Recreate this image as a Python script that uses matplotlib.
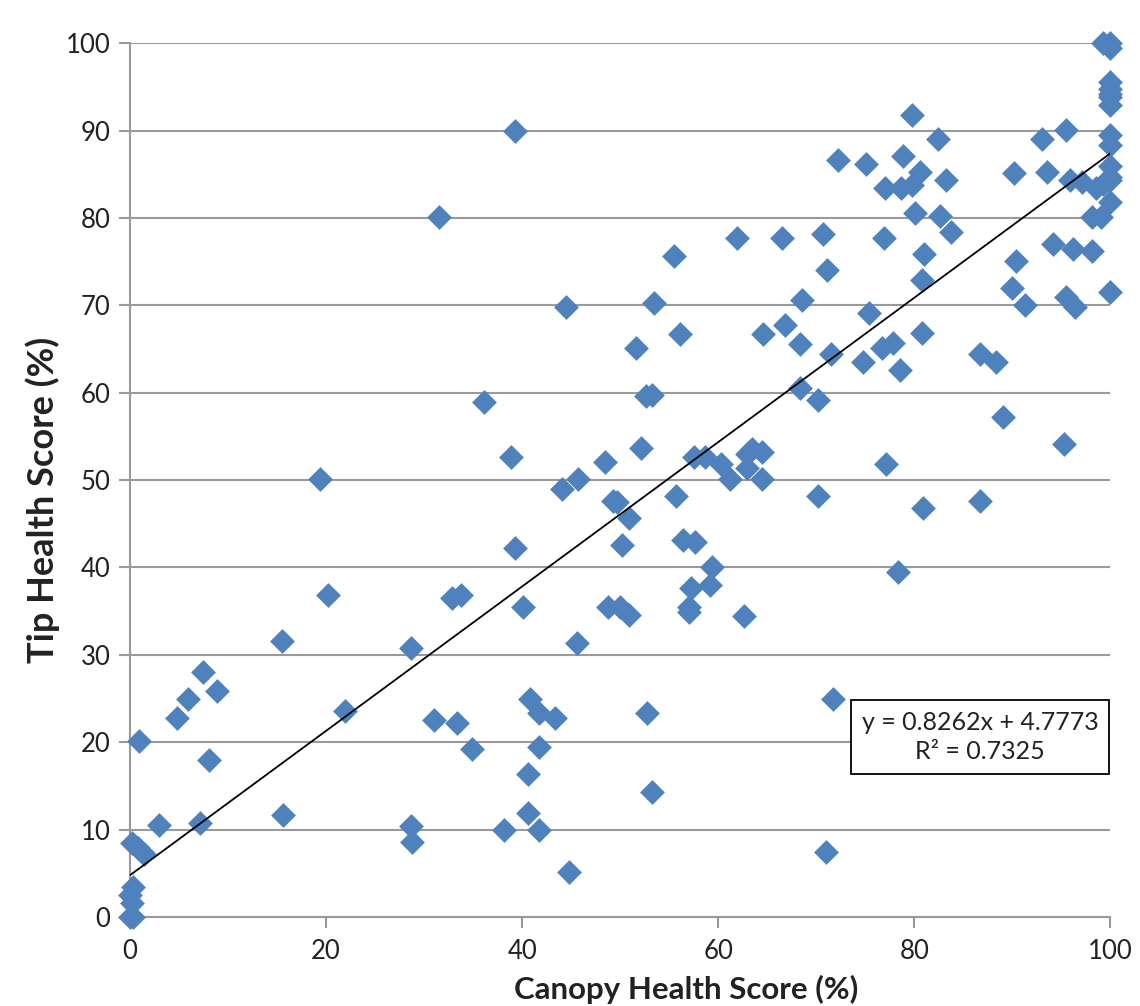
import matplotlib
matplotlib.use('Agg')
import matplotlib.pyplot as plt
import numpy as np

plt.rcParams['font.family'] = ['Lato', 'DejaVu Sans']

# canopy health score (%) vs tip health score (%)
canopy = [0, 0.3, 0.2, 0, 0.3, 0.2, 0.85, 1.4, 0.9, 3.0,
          7.1, 4.8, 5.95, 7.4, 8.9, 8.1, 15.5, 15.6, 19.4, 20.2,
          21.9, 28.7, 28.7, 28.8, 31.0, 31.5, 33.4, 32.8, 33.8, 34.9,
          36.1, 38.2, 38.9, 39.3, 39.3, 40.1, 40.8, 40.6, 40.6, 41.7,
          41.7, 41.7, 43.4, 44.8, 44.5, 44.1, 45.6, 45.7, 48.5, 48.8,
          49.3, 49.7, 50.2, 50.0, 50.9, 50.9, 51.6, 52.1, 52.6, 53.2,
          52.7, 53.2, 53.5, 55.5, 55.7, 56.1, 56.4, 57.0, 57.0, 57.2,
          57.5, 57.6, 58.7, 59.2, 59.4, 60.3, 61.2, 61.9, 62.6, 62.9,
          63.4, 62.9, 64.5, 64.5, 64.6, 66.5, 66.8, 68.3, 68.3, 68.5,
          70.2, 70.2, 70.7, 71.1, 71.0, 71.7, 71.5, 72.2, 74.8, 75.1,
          75.4, 76.7, 76.9, 77.0, 77.1, 77.8, 78.3, 78.5, 78.6, 78.8,
          79.8, 79.8, 80.1, 80.6, 80.8, 80.8, 80.9, 81.0, 82.4, 82.6,
          83.2, 83.7, 86.7, 86.7, 88.3, 89.0, 90.0, 90.2, 90.4, 91.3,
          93.0, 93.5, 94.2, 95.5, 95.5, 95.9, 96.2, 96.4, 95.3, 97.1,
          98.1, 98.1, 98.5, 99.0, 99.3, 99.2, 100, 100, 100, 100,
          100, 100, 100, 100, 100, 100, 100, 100, 100, 100]
tip = [0, 0, 1.6, 2.5, 3.4, 8.5, 7.9, 7.2, 20.1, 10.5,
       10.7, 22.8, 25.0, 28.0, 25.9, 18.0, 31.6, 11.7, 50.1, 36.9,
       23.6, 30.8, 10.4, 8.6, 22.5, 80.1, 22.2, 36.5, 36.8, 19.2,
       58.9, 9.9, 52.7, 90.0, 42.2, 35.5, 25.0, 16.4, 11.9, 23.4,
       19.5, 10.0, 22.8, 5.1, 69.8, 49.0, 31.3, 50.1, 52.1, 35.5,
       47.6, 47.5, 42.6, 35.5, 34.6, 45.7, 65.1, 53.7, 59.6, 59.7,
       23.3, 14.3, 70.3, 75.7, 48.2, 66.7, 43.2, 35.5, 34.9, 37.6,
       52.7, 42.9, 52.7, 38.0, 40.1, 51.8, 50.1, 77.7, 34.4, 53.0,
       53.6, 51.4, 53.2, 50.1, 66.7, 77.7, 67.7, 65.6, 60.6, 70.6,
       59.2, 48.2, 78.2, 74.0, 7.4, 25.0, 64.4, 86.6, 63.5, 86.2,
       69.1, 65.1, 77.7, 83.4, 51.9, 65.7, 39.5, 62.6, 83.4, 87.1,
       91.8, 83.8, 80.6, 85.3, 72.9, 66.8, 46.8, 75.9, 89.0, 80.2,
       84.3, 78.4, 64.4, 47.6, 63.5, 57.2, 72.0, 85.2, 75.1, 70.0,
       89.0, 85.3, 77.0, 90.1, 71.0, 84.3, 76.5, 69.8, 54.1, 84.1,
       76.2, 80.1, 83.4, 80.1, 83.9, 100, 100, 99.5, 95.6, 94.8,
       94.2, 93.9, 92.9, 89.5, 88.3, 86.0, 84.7, 84.3, 81.8, 71.5]

# trendline as given in the chart's label
slope = 0.8262
intercept = 4.7773
r_squared = 0.7325

x_ticks = [0, 20, 40, 60, 80, 100]
y_ticks = [0, 10, 20, 30, 40, 50, 60, 70, 80, 90, 100]

grey = '#9a9a9a'
ink = '#222222'

fig = plt.figure(figsize=(11.4, 10.06), dpi=100)
ax = fig.add_axes([0.114, 0.0885, 0.86, 0.8685])

ax.set_axisbelow(True)
ax.yaxis.grid(True, color=grey, lw=1.5)

ax.scatter(canopy, tip, marker='D', s=160, color='#4F81BD', zorder=3,
           linewidths=0, clip_on=False)

fit_x = np.array([0, 100])
ax.plot(fit_x, slope * fit_x + intercept, color='black', lw=1.3, zorder=4)

ax.set_xlim(0, 100)
ax.set_ylim(0, 100)
ax.set_xticks(x_ticks)
ax.set_yticks(y_ticks)

for side in ['top', 'right']:
    ax.spines[side].set_visible(False)
for side in ['left', 'bottom']:
    ax.spines[side].set_color(grey)
    ax.spines[side].set_linewidth(1.5)

ax.tick_params(axis='both', colors=grey, labelcolor=ink, labelsize=18.5,
               length=8, width=1.5, direction='out')
ax.tick_params(axis='x', pad=8)
ax.tick_params(axis='y', pad=6)

ax.set_xlabel('Canopy Health Score (%)', fontsize=22.5, fontweight='bold', color=ink)
ax.set_ylabel('Tip Health Score (%)', fontsize=26, fontweight='bold', color=ink)
ax.xaxis.set_label_coords(0.567, -0.0995)
ax.xaxis.label.set_va('bottom')
ax.yaxis.set_label_coords(-0.089, 0.477)
ax.yaxis.label.set_va('center')

label = 'y = {:.4f}x + {:.4f}\nR² = {:.4f}'.format(slope, intercept, r_squared)
ax.text(86.7, 20.6, label, fontsize=18, ha='center', va='center', color=ink,
        linespacing=1.35, zorder=5,
        bbox=dict(boxstyle='square,pad=0.42', fc='white', ec='black', lw=1.3))

fig.savefig('out.png', dpi=100)
